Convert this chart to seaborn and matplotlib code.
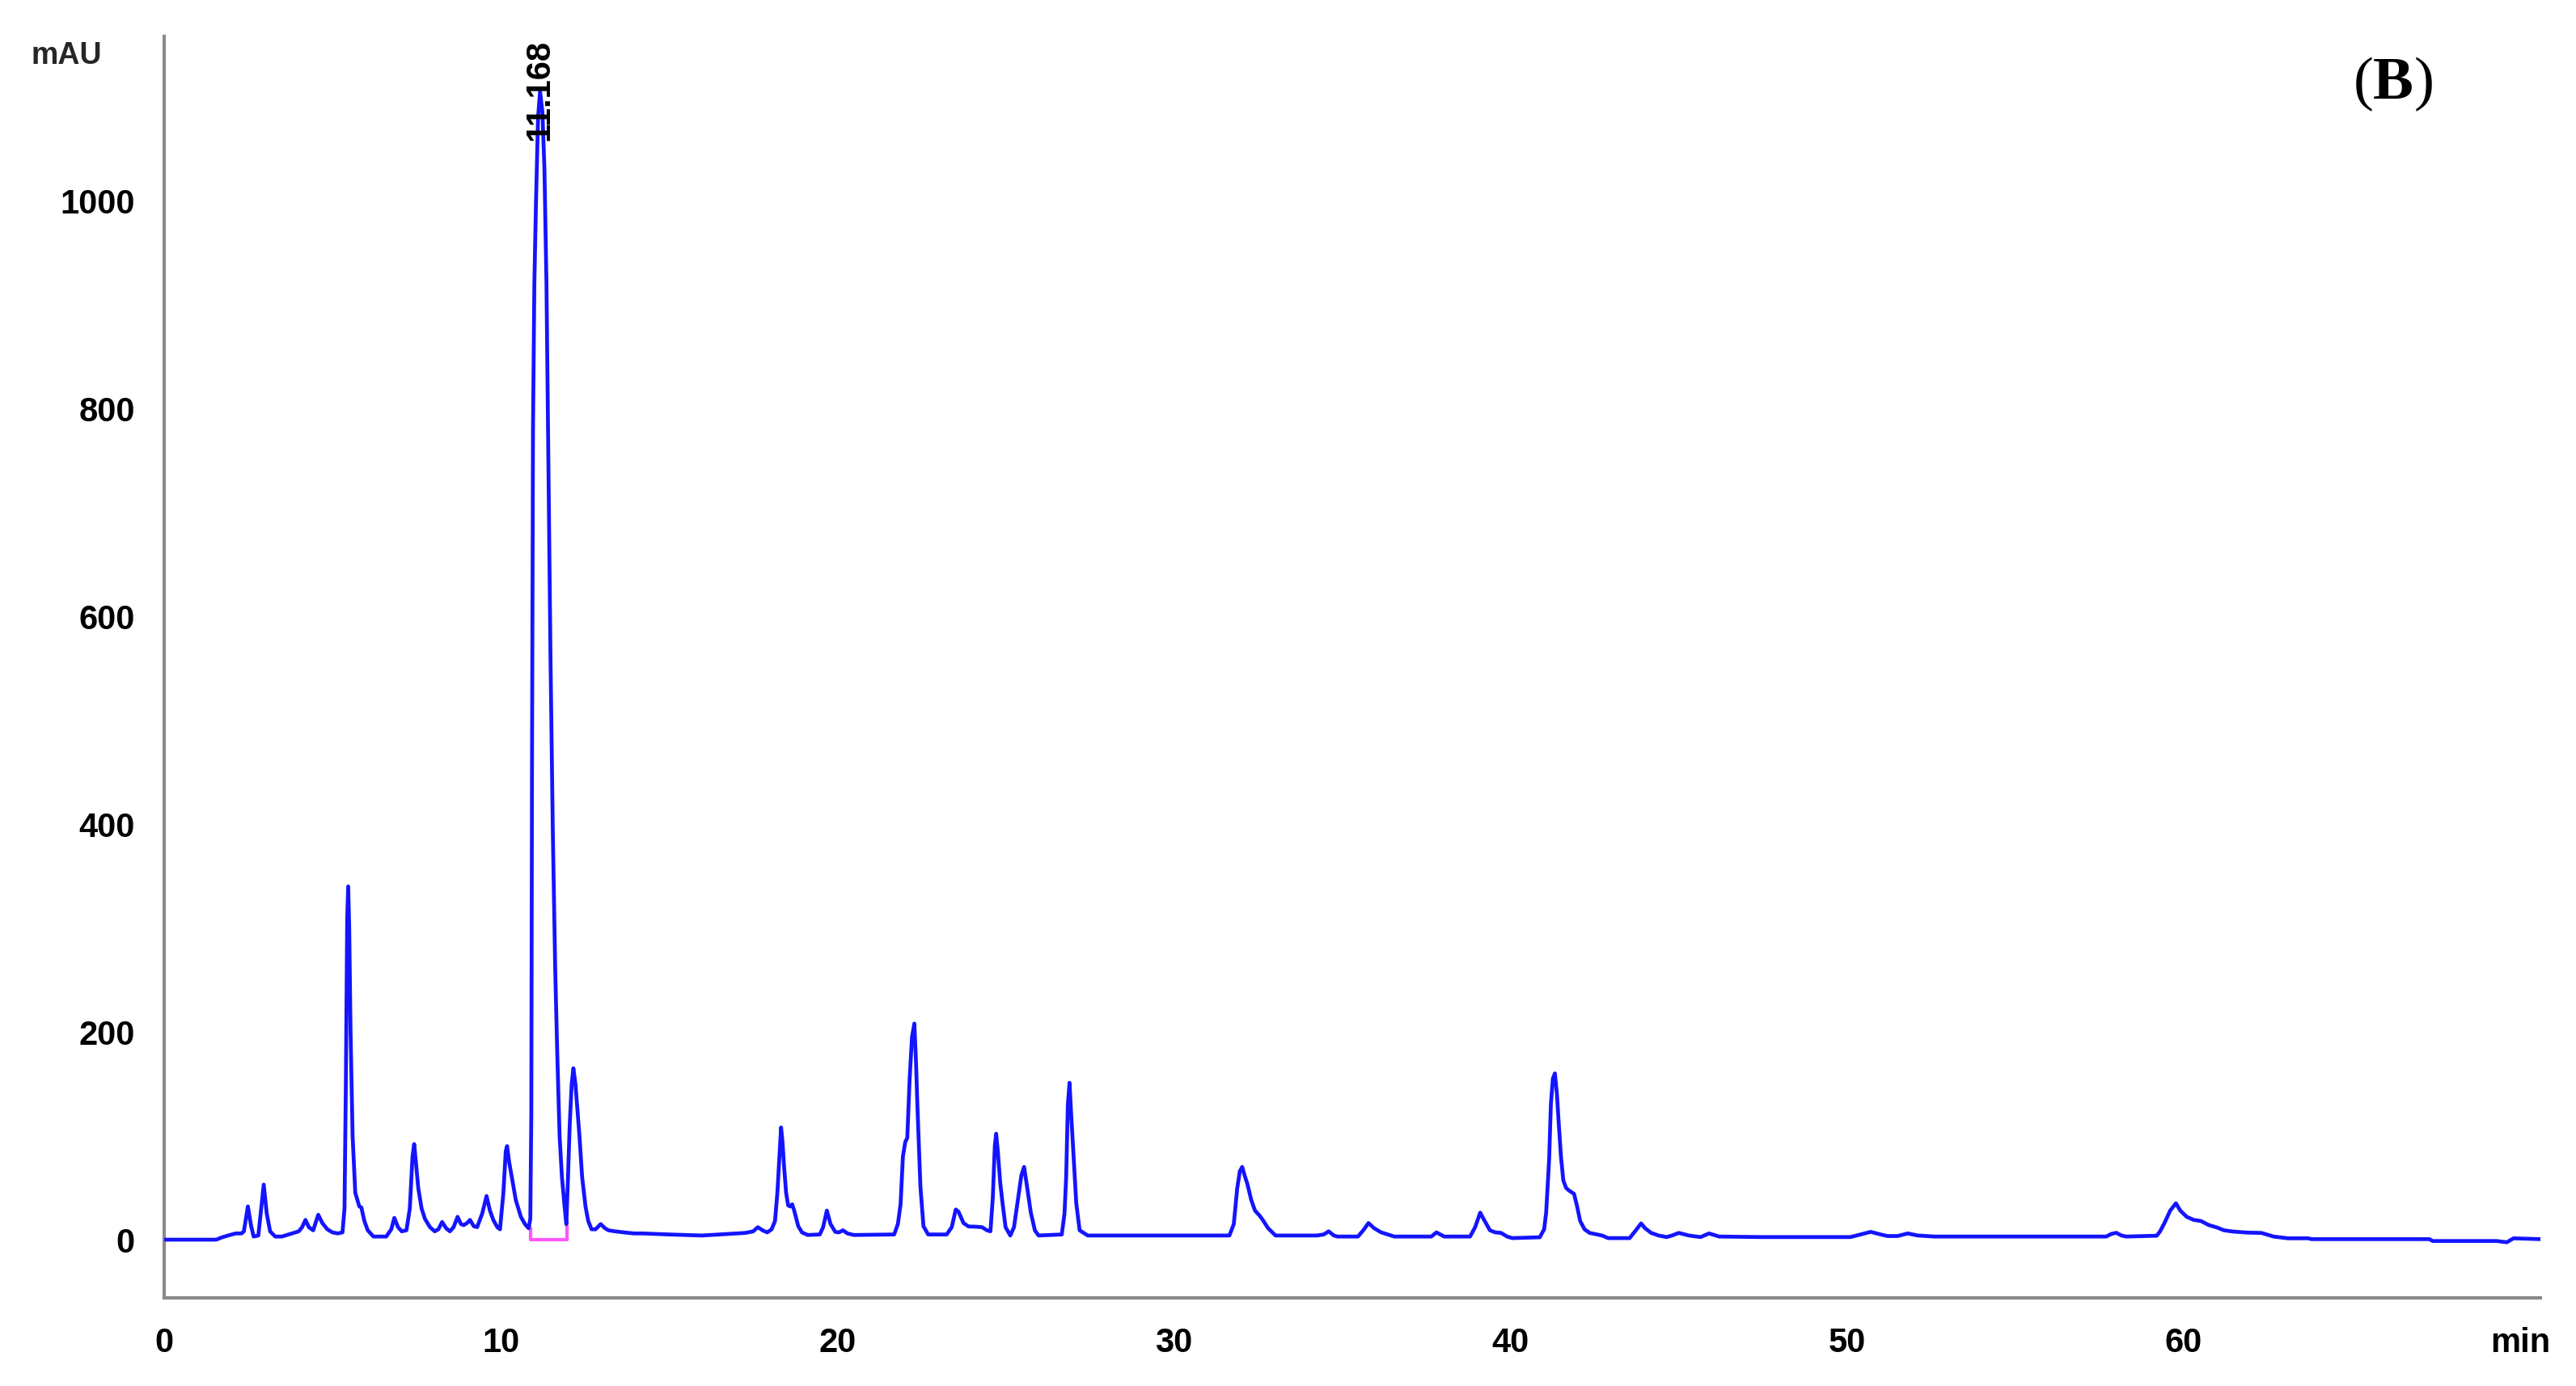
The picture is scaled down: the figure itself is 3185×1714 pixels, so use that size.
import matplotlib
matplotlib.use("Agg")
import matplotlib.pyplot as plt
import seaborn as sns
import pandas as pd
from matplotlib.ticker import MultipleLocator, FixedLocator

# ---- data (retention time in min, absorbance in mAU) ----
time_min = [
    0.0, 1.55, 1.7, 1.9, 2.13, 2.3, 2.37, 2.49, 2.58, 2.66, 2.8, 2.96, 3.05, 3.15, 3.3, 3.5,
    3.7, 4.0, 4.1, 4.2, 4.3, 4.43, 4.58, 4.7, 4.85, 5.0, 5.16, 5.3, 5.36, 5.4, 5.44, 5.47,
    5.5, 5.54, 5.6, 5.68, 5.8, 5.86, 5.95, 6.05, 6.22, 6.6, 6.75, 6.84, 6.95, 7.06, 7.2, 7.3,
    7.38, 7.43, 7.48, 7.55, 7.65, 7.75, 7.9, 8.04, 8.15, 8.26, 8.38, 8.49, 8.6, 8.72, 8.82, 8.9,
    9.0, 9.09, 9.2, 9.3, 9.45, 9.58, 9.68, 9.78, 9.9, 9.98, 10.08, 10.15, 10.19, 10.25, 10.33, 10.45,
    10.6, 10.72, 10.83, 10.88, 10.91, 10.93, 10.96, 11.0, 11.05, 11.11, 11.17, 11.24, 11.3, 11.36, 11.42, 11.48,
    11.55, 11.62, 11.68, 11.75, 11.82, 11.89, 11.95, 12.0, 12.05, 12.11, 12.16, 12.22, 12.28, 12.34, 12.42, 12.52,
    12.6, 12.7, 12.82, 12.97, 13.1, 13.2, 13.4, 13.66, 13.96, 14.2, 15.0, 15.98, 16.5, 17.27, 17.5, 17.64,
    17.78, 17.92, 18.05, 18.15, 18.22, 18.29, 18.33, 18.37, 18.42, 18.48, 18.54, 18.6, 18.66, 18.72, 18.84, 18.95,
    19.12, 19.48, 19.58, 19.69, 19.8, 19.94, 20.05, 20.17, 20.3, 20.49, 21.69, 21.8, 21.88, 21.95, 22.02, 22.08,
    22.15, 22.22, 22.29, 22.34, 22.38, 22.47, 22.56, 22.7, 23.25, 23.4, 23.52, 23.6, 23.75, 23.9, 24.1, 24.3,
    24.45, 24.55, 24.62, 24.68, 24.72, 24.77, 24.84, 24.91, 25.0, 25.14, 25.25, 25.37, 25.47, 25.55, 25.62, 25.75,
    25.87, 25.98, 26.67, 26.75, 26.8, 26.85, 26.9, 26.95, 27.02, 27.1, 27.2, 27.44, 31.65, 31.78, 31.88, 31.96,
    32.03, 32.1, 32.18, 32.3, 32.41, 32.55, 32.64, 32.8, 33.02, 34.25, 34.45, 34.6, 34.75, 34.86, 35.47, 35.65,
    35.78, 35.95, 36.16, 36.55, 37.65, 37.8, 38.03, 38.8, 38.95, 39.1, 39.2, 39.39, 39.55, 39.72, 39.9, 40.05,
    40.87, 41.0, 41.06, 41.15, 41.2, 41.26, 41.32, 41.38, 41.43, 41.5, 41.57, 41.65, 41.71, 41.8, 41.89, 41.98,
    42.07, 42.2, 42.35, 42.72, 42.9, 43.54, 43.7, 43.88, 44.0, 44.18, 44.4, 44.64, 44.8, 45.0, 45.3, 45.65,
    45.9, 46.2, 47.5, 50.1, 50.4, 50.7, 51.0, 51.2, 51.5, 51.8, 52.1, 52.6, 57.7, 57.85, 58.0, 58.15,
    58.3, 59.2, 59.3, 59.43, 59.6, 59.77, 59.9, 60.09, 60.3, 60.51, 60.75, 60.99, 61.2, 61.47, 61.9, 62.31,
    62.67, 63.1, 63.7, 63.8, 67.3, 67.4, 69.3, 69.6, 69.8, 70.6,
]
signal_mau = [
    0, 0, 2, 4, 6, 6, 8, 32, 14, 3, 4, 53, 25, 8, 3, 3,
    5, 8, 12, 19, 12, 9, 24, 16, 10, 7, 6, 7, 30, 150, 310, 340,
    300, 200, 100, 45, 32, 31, 18, 9, 3, 3, 10, 21, 12, 8, 9, 30,
    80, 92, 75, 50, 30, 20, 12, 8, 10, 17, 11, 8, 12, 22, 15, 14,
    16, 19, 13, 12, 25, 42, 28, 19, 12, 10, 45, 85, 90, 75, 60, 38,
    22, 15, 11, 20, 120, 450, 780, 920, 1000, 1080, 1105, 1085, 1030, 920, 740, 560,
    390, 260, 180, 100, 60, 35, 15, 60, 110, 150, 165, 150, 125, 100, 60, 32,
    18, 10, 10, 15, 11, 9, 8, 7, 6, 6, 5, 4, 5, 6.5, 8, 12,
    9, 7, 10, 18, 45, 85, 108, 95, 70, 45, 33, 32, 34, 28, 13, 7,
    4.5, 5, 12, 28, 15, 7.5, 7, 9, 6, 4.5, 5, 15, 34, 80, 94, 98,
    155, 195, 208, 170, 129, 51, 13, 5, 5, 12, 29, 27, 16, 12.7, 12.5, 12,
    9, 8, 40, 90, 102, 85, 55, 35, 12, 4, 12, 39, 62, 70, 55, 26,
    9, 4, 5, 25, 60, 130, 151, 120, 80, 35, 9, 4, 4, 15, 49, 66,
    70, 62, 54, 38, 28, 23, 19, 11, 4, 4, 5, 8, 4, 3, 3, 10,
    16, 11, 7, 3, 3, 7, 3, 3, 12, 26, 20, 9, 7, 6.5, 3, 1.5,
    2.3, 10, 26, 78, 130, 155, 160, 140, 114, 80, 57, 50, 48, 46, 44, 32,
    18, 10, 6.5, 4, 1.5, 1.5, 8, 15.6, 11, 6.5, 4, 2.5, 4, 6.5, 4, 2.5,
    6, 3, 2.5, 2.5, 5, 7.5, 5, 3.5, 3.5, 6, 4, 3, 3, 5.5, 6.6, 4,
    3, 3.8, 8, 16, 28, 35, 28, 22, 19, 18, 14, 11.7, 9, 7.8, 6.8, 6.5,
    3, 1.3, 1.3, 0.5, 0.5, -1.3, -1.3, -2.5, 1.3, 0.5,
]

# integration baseline of the labelled peak
baseline_time = [10.88, 10.88, 11.97, 11.97]
baseline_mau = [11, 0, 0, 14]

peak_label = "11.168"
peak_rt = 11.168

x_ticks = [0, 10, 20, 30, 40, 50, 60, 70]
x_tick_labels = ["0", "10", "20", "30", "40", "50", "60", "min"]
y_ticks = [0, 200, 400, 600, 800, 1000]
y_tick_labels = ["0", "200", "400", "600", "800", "1000"]

# ---- styling ----
sns.set_theme(style="white")
plt.rcParams["font.family"] = ["Liberation Sans", "DejaVu Sans"]
plt.rcParams["mathtext.fontset"] = "custom"
plt.rcParams["mathtext.rm"] = "Liberation Serif"
plt.rcParams["mathtext.bf"] = "Liberation Serif:bold"

axis_grey = "#8a8a8a"
trace_blue = "#1414ff"

fig = plt.figure(figsize=(31.85, 17.14), dpi=100)
ax = fig.add_axes([0.0637, 0.0636, 0.9225, 0.9101])

df = pd.DataFrame({"time": time_min, "mAU": signal_mau})
sns.lineplot(data=df, x="time", y="mAU", ax=ax, color=trace_blue, linewidth=3.4,
             estimator=None, sort=False, zorder=3)

bl = pd.DataFrame({"time": baseline_time, "mAU": baseline_mau})
sns.lineplot(data=bl, x="time", y="mAU", ax=ax, color="#ff55ff", linewidth=3.0,
             estimator=None, sort=False, zorder=2)

ax.set_xlim(0, 70.6)
ax.set_ylim(-56, 1158)
ax.set_xlabel("")
ax.set_ylabel("")

for side in ("top", "right"):
    ax.spines[side].set_visible(False)
for side in ("left", "bottom"):
    ax.spines[side].set_color(axis_grey)
    ax.spines[side].set_linewidth(3.0)

ax.xaxis.set_major_locator(FixedLocator(x_ticks))
ax.set_xticklabels(x_tick_labels)
ax.xaxis.set_minor_locator(MultipleLocator(2))
ax.yaxis.set_major_locator(FixedLocator(y_ticks))
ax.set_yticklabels(y_tick_labels)
ax.yaxis.set_minor_locator(MultipleLocator(50))

ax.tick_params(axis="both", which="major", direction="out", length=16, width=2.4,
               color=axis_grey, labelsize=30, labelcolor="black")
ax.tick_params(axis="both", which="minor", direction="out", length=8, width=2.4,
               color=axis_grey)
ax.tick_params(axis="x", which="major", pad=10)
ax.tick_params(axis="y", which="major", pad=10)
for lab in ax.get_xticklabels() + ax.get_yticklabels():
    lab.set_fontweight("bold")

ax.text(peak_rt, 1058, peak_label, rotation=90, ha="center", va="bottom",
        fontsize=30, fontweight="bold", color="black", zorder=4)

fig.text(0.012, 0.960, "mAU", ha="left", va="center", fontsize=27, fontweight="bold")
fig.text(0.9287, 0.9393, r"$\mathrm{(}\mathbf{B}\mathrm{)}$", ha="center", va="center",
         fontsize=54, color="black")

fig.savefig("out.png", dpi=100)
